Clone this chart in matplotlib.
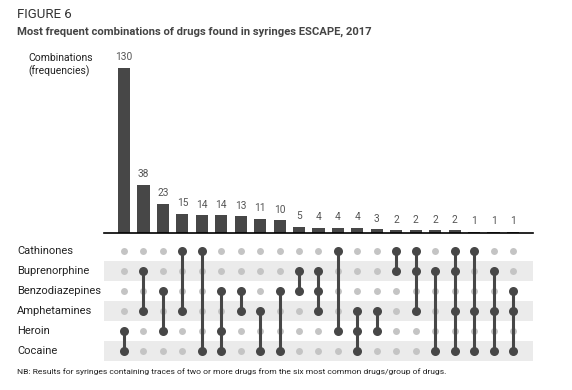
import matplotlib
matplotlib.use("Agg")
import matplotlib.pyplot as plt

plt.rcParams['font.family'] = ['Roboto', 'DejaVu Sans']

drugs = ["Cathinones", "Buprenorphine", "Benzodiazepines", "Amphetamines", "Heroin", "Cocaine"]
counts = [130, 38, 23, 15, 14, 14, 13, 11, 10, 5, 4, 4, 4, 3, 2, 2, 2, 2, 1, 1, 1]
combos = [
    ["Heroin", "Cocaine"],
    ["Buprenorphine", "Amphetamines"],
    ["Benzodiazepines", "Heroin"],
    ["Cathinones", "Amphetamines"],
    ["Cathinones", "Cocaine"],
    ["Benzodiazepines", "Heroin", "Cocaine"],
    ["Benzodiazepines", "Amphetamines"],
    ["Amphetamines", "Cocaine"],
    ["Benzodiazepines", "Cocaine"],
    ["Buprenorphine", "Benzodiazepines"],
    ["Buprenorphine", "Benzodiazepines", "Amphetamines"],
    ["Cathinones", "Heroin"],
    ["Amphetamines", "Heroin", "Cocaine"],
    ["Amphetamines", "Heroin"],
    ["Cathinones", "Buprenorphine"],
    ["Cathinones", "Buprenorphine", "Amphetamines"],
    ["Buprenorphine", "Cocaine"],
    ["Cathinones", "Buprenorphine", "Amphetamines", "Cocaine"],
    ["Cathinones", "Amphetamines", "Cocaine"],
    ["Buprenorphine", "Amphetamines", "Cocaine"],
    ["Benzodiazepines", "Amphetamines", "Cocaine"],
]

dark = "#474747"
light = "#c4c4c4"
stripe = "#ebebeb"

W, H = 572, 390
fig = plt.figure(figsize=(W / 100, H / 100), dpi=100)

x0, x1 = 104, 533
n = len(counts)
xs = list(range(n))
xlim = (-1.03, n - 1 + 1.03)

# Bar axes
bar_top, bar_bot = 55, 233
axb = fig.add_axes([x0 / W, 1 - bar_bot / H, (x1 - x0) / W, (bar_bot - bar_top) / H])
axb.bar(xs, counts, width=0.62, color=dark)
axb.set_xlim(*xlim)
axb.set_ylim(0, 140)
for s in ["top", "right", "left"]:
    axb.spines[s].set_visible(False)
axb.spines["bottom"].set_color("black")
axb.spines["bottom"].set_linewidth(1.2)
axb.set_xticks([])
axb.set_yticks([])
for x, c in zip(xs, counts):
    axb.annotate(str(c), (x, c), xytext=(0, 4), textcoords="offset points",
                 ha="center", va="bottom", fontsize=7.3, color="#555555")

# Matrix axes
m_top, m_bot = 241, 361
axm = fig.add_axes([x0 / W, 1 - m_bot / H, (x1 - x0) / W, (m_bot - m_top) / H])
axm.set_xlim(*xlim)
axm.set_ylim(len(drugs) - 0.5, -0.5)
for i, d in enumerate(drugs):
    if i % 2 == 1:
        axm.axhspan(i - 0.5, i + 0.5, color=stripe, zorder=0, lw=0)
for j, combo in enumerate(combos):
    idx = [drugs.index(d) for d in combo]
    for i in range(len(drugs)):
        if i not in idx:
            axm.plot(j, i, "o", ms=5, color=light, mec="none", zorder=2)
    axm.plot([j, j], [min(idx), max(idx)], color=dark, lw=2.2, zorder=3, solid_capstyle="butt")
    axm.plot([j] * len(idx), idx, "o", ms=6.5, color=dark, mec="none", zorder=4)
axm.axis("off")
for i, d in enumerate(drugs):
    fig.text(17 / W, 1 - (251 + 20 * i) / H, d, ha="left", va="center", fontsize=8, color="#222222")

fig.text(17 / W, 1 - 14 / H, "FIGURE 6", ha="left", va="center", fontsize=9.5, color="#333333")
fig.text(17 / W, 1 - 32 / H, "Most frequent combinations of drugs found in syringes ESCAPE, 2017",
         ha="left", va="center", fontsize=8.1, fontweight="bold", color="#444444")
fig.text(28 / W, 1 - 65 / H, "Combinations\n(frequencies)", ha="left", va="center",
         fontsize=7.5, color="#222222", linespacing=1.2)
fig.text(17 / W, 1 - 372 / H,
         "NB: Results for syringes containing traces of two or more drugs from the six most common drugs/group of drugs.",
         ha="left", va="center", fontsize=6.1, color="#222222")

fig.savefig("out.png", dpi=100)
